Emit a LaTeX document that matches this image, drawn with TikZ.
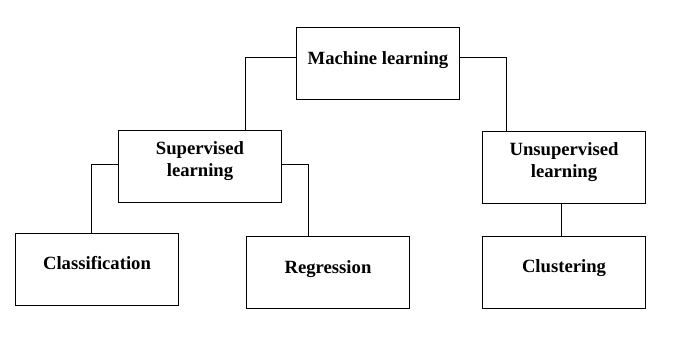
\documentclass[tikz,border=0pt]{standalone}
\usepackage{fontspec}
\setmainfont{Liberation Serif}
\usepackage{tikz}
\usetikzlibrary{positioning, calc}

\begin{document}
\begin{tikzpicture}[
            x=0.75pt, y=-0.75pt,
            box/.style={draw=black, line width=0.75pt, rectangle, minimum width=122pt, minimum height=54pt, inner sep=0pt},
            boxtext/.style={font=\fontsize{14}{16.5}\selectfont\bfseries, align=center},
            link/.style={line width=0.75pt}
        ]
        \useasboundingbox (0,0) rectangle (697,339);

        % nodes
        \node[box, label={[boxtext, yshift=2.25pt]center:Machine learning}] (ml) at (378,63) {};
        \node[box, label={[boxtext, yshift=3.5pt]center:Supervised\\learning}] (sup) at (200,166) {};
        \node[box, label={[boxtext, yshift=3.5pt]center:Unsupervised\\learning}] (unsup) at (564,167) {};
        \node[box, label={[boxtext, yshift=4.5pt]center:Classification}] (cls) at (97,269) {};
        \node[box, label={[boxtext, yshift=2.5pt]center:Regression}] (reg) at (328,272) {};
        \node[box, label={[boxtext, yshift=3pt]center:Clustering}] (clu) at (564,272) {};

        % edges
        \draw[link] ($(ml.west)+(0,-6)$) -| ($(sup.north)+(45,0)$);
        \draw[link] ($(ml.east)+(0,-6)$) -| ($(unsup.north)+(-58,0)$);
        \draw[link] ($(sup.west)+(0,-2)$) -| ($(cls.north)+(-6,0)$);
        \draw[link] ($(sup.east)+(0,-2)$) -| ($(reg.north)+(-20,0)$);
        \draw[link] ($(unsup.south)+(-3,0)$) -- ($(clu.north)+(-3,0)$);

    \end{tikzpicture}
\end{document}
